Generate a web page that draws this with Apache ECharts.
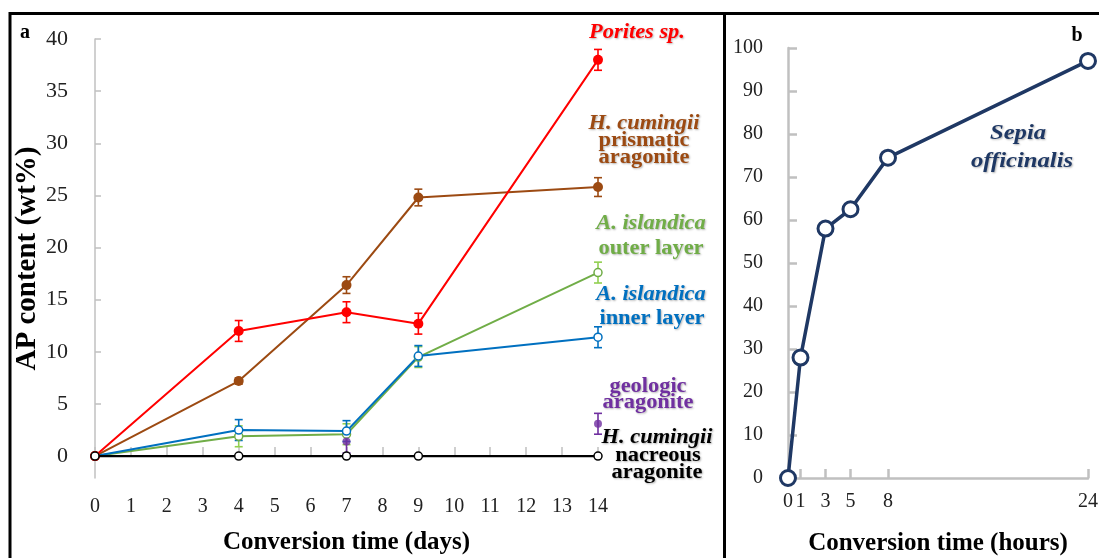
<!DOCTYPE html>
<html>
<head>
<meta charset="utf-8">
<script src="https://cdn.jsdelivr.net/npm/echarts@6/dist/echarts.min.js"></script>
<style>
  html, body { margin: 0; padding: 0; background: #fff; }
  #chart { width: 1099px; height: 558px; }
</style>
</head>
<body>
<div id="chart"></div>
<script>
// Panel a: conversion time in days
var days = [0, 4, 7, 9, 14];
var dayTicks = [0, 1, 2, 3, 4, 5, 6, 7, 8, 9, 10, 11, 12, 13, 14];
var apTicks = [0, 5, 10, 15, 20, 25, 30, 35, 40];

var porites = [0, 12.0, 13.8, 12.7, 38.0];
var poritesErr = [0, 1.0, 1.0, 1.0, 1.0];

var prismatic = [0, 7.2, 16.4, 24.8, 25.8];
var prismaticErr = [0, 0.3, 0.8, 0.8, 0.9];

var outerLayer = [0, 1.9, 2.1, 9.5, 17.6];
var outerErr = [0, 1.0, 1.0, 1.0, 1.0];

var innerLayer = [0, 2.5, 2.4, 9.6, 11.4];
var innerErr = [0, 1.0, 1.0, 1.0, 1.0];

var geoDays = [7, 14];
var geologic = [1.4, 3.1];
var geoErr = [1.1, 1.0];

var nacreous = [0, 0, 0, 0, 0];

// Panel b: conversion time in hours
var hours = [0, 1, 3, 5, 8, 24];
var hourTicks = [0, 1, 3, 5, 8, 24];
var sepia = [0, 28, 58, 62.5, 74.5, 97];

var FONT = 'Liberation Serif';
var AXIS_GREY = '#c0c0c0';

function pairs(xs, ys) {
  return xs.map(function (x, i) { return [x, ys[i]]; });
}
function errRows(xs, ys, es) {
  return xs.map(function (x, i) { return [x, ys[i] - es[i], ys[i] + es[i]]; })
           .filter(function (r) { return r[2] > r[1]; });
}

function errorBars(name, xs, ys, es, color) {
  return {
    type: 'custom',
    name: name + ' error',
    xAxisIndex: 0, yAxisIndex: 0,
    data: errRows(xs, ys, es),
    encode: { x: 0, y: [1, 2] },
    z: 3,
    renderItem: function (params, api) {
      var x = api.value(0);
      var lo = api.coord([x, api.value(1)]);
      var hi = api.coord([x, api.value(2)]);
      var w = 4;
      var st = { stroke: color, lineWidth: 1.6 };
      return {
        type: 'group',
        children: [
          { type: 'line', shape: { x1: lo[0], y1: lo[1], x2: hi[0], y2: hi[1] }, style: st },
          { type: 'line', shape: { x1: lo[0] - w, y1: lo[1], x2: lo[0] + w, y2: lo[1] }, style: st },
          { type: 'line', shape: { x1: hi[0] - w, y1: hi[1], x2: hi[0] + w, y2: hi[1] }, style: st }
        ]
      };
    }
  };
}

function lineSeries(name, xs, ys, color, opts) {
  opts = opts || {};
  return {
    type: 'line',
    name: name,
    xAxisIndex: opts.axis || 0, yAxisIndex: opts.axis || 0,
    data: pairs(xs, ys),
    symbol: 'circle',
    symbolSize: opts.size || 10,
    z: opts.z || 4,
    lineStyle: { color: color, width: opts.width || 2 },
    itemStyle: opts.hollow
      ? { color: '#fff', borderColor: color, borderWidth: opts.border || 1.5 }
      : { color: color, borderColor: color, borderWidth: 0 },
    emphasis: { disabled: true },
    animation: false
  };
}

var labelShadow = { textShadowColor: 'rgba(0,0,0,0.3)', textShadowBlur: 2, textShadowOffsetX: 1, textShadowOffsetY: 1 };

// text placed at its centre; widened slightly to give the broad book-face look
function txt(x, y, s, color, size, italic, extra, sx) {
  var style = Object.assign({
    text: s, x: 0, y: 0, fill: color,
    font: (italic ? 'italic ' : '') + 'bold ' + size + 'px "' + FONT + '"',
    textAlign: 'center', textVerticalAlign: 'middle'
  }, extra || {});
  return { type: 'text', z: 10, x: x, y: y, scaleX: sx || 1, style: style };
}

var chart = echarts.init(document.getElementById('chart'), null, { renderer: 'canvas' });

var option = {
  backgroundColor: '#fff',
  animation: false,
  textStyle: { fontFamily: FONT },
  grid: [
    { left: 95, top: 39, width: 503, height: 439, outerBoundsMode: 'none', containLabel: false },
    { left: 788, top: 48, width: 300, height: 430, outerBoundsMode: 'none', containLabel: false }
  ],
  xAxis: [
    {
      gridIndex: 0, type: 'value', min: 0, max: 14, interval: 1,
      axisLine: { show: true, lineStyle: { color: AXIS_GREY, width: 1.5 } },
      axisTick: { show: true, inside: true, length: 9, lineStyle: { color: AXIS_GREY, width: 1.5 } },
      axisLabel: { color: '#222', fontSize: 20, fontFamily: FONT, margin: 19,
                   customValues: dayTicks },
      splitLine: { show: false },
      name: 'Conversion time (days)', nameLocation: 'middle', nameGap: 52,
      nameTextStyle: { color: '#000', fontSize: 25, fontWeight: 'bold', fontFamily: FONT }
    },
    {
      gridIndex: 1, type: 'value', min: 0, max: 24,
      axisLine: { show: true, lineStyle: { color: AXIS_GREY, width: 2.5 } },
      axisTick: { show: true, inside: true, length: 9, lineStyle: { color: AXIS_GREY, width: 2.5 },
                  customValues: hourTicks },
      axisLabel: { color: '#222', fontSize: 20, fontFamily: FONT, margin: 14,
                   customValues: hourTicks },
      splitLine: { show: false },
      name: 'Conversion time (hours)', nameLocation: 'middle', nameGap: 53,
      nameTextStyle: { color: '#000', fontSize: 25, fontWeight: 'bold', fontFamily: FONT }
    }
  ],
  yAxis: [
    {
      gridIndex: 0, type: 'value', min: -2.1, max: 40,
      axisLine: { show: true, lineStyle: { color: AXIS_GREY, width: 1.5 } },
      axisTick: { show: true, inside: true, length: 6, lineStyle: { color: AXIS_GREY, width: 1.5 },
                  customValues: apTicks },
      axisLabel: { color: '#222', fontSize: 22, fontFamily: FONT, margin: 27,
                   customValues: apTicks },
      splitLine: { show: false },
      name: 'AP content (wt%)', nameLocation: 'middle', nameGap: 44, nameRotate: 90,
      nameTextStyle: { color: '#000', fontSize: 29, fontWeight: 'bold', fontFamily: FONT }
    },
    {
      gridIndex: 1, type: 'value', min: 0, max: 100, interval: 10,
      axisLine: { show: true, lineStyle: { color: AXIS_GREY, width: 2.5 } },
      axisTick: { show: true, inside: true, length: 9, lineStyle: { color: AXIS_GREY, width: 2.5 } },
      axisLabel: { color: '#222', fontSize: 20, fontFamily: FONT, margin: 25 },
      splitLine: { show: false }
    }
  ],
  series: [
    errorBars('H. cumingii prismatic', days, prismatic, prismaticErr, '#9c4a12'),
    lineSeries('H. cumingii prismatic aragonite', days, prismatic, '#9c4a12', { size: 10 }),
    errorBars('Porites sp.', days, porites, poritesErr, '#ff0000'),
    lineSeries('Porites sp.', days, porites, '#ff0000', { size: 10, z: 5 }),
    errorBars('A. islandica outer', days, outerLayer, outerErr, '#92d050'),
    lineSeries('A. islandica outer layer', days, outerLayer, '#70ad47', { hollow: true, size: 8 }),
    errorBars('A. islandica inner', days, innerLayer, innerErr, '#0070c0'),
    lineSeries('A. islandica inner layer', days, innerLayer, '#0070c0', { hollow: true, size: 8 }),
    errorBars('geologic aragonite', geoDays, geologic, geoErr, '#7030a0'),
    {
      type: 'scatter', name: 'geologic aragonite', xAxisIndex: 0, yAxisIndex: 0,
      data: pairs(geoDays, geologic), symbol: 'circle', symbolSize: 8, z: 6,
      itemStyle: { color: '#7030a0' }, emphasis: { disabled: true }
    },
    lineSeries('H. cumingii nacreous aragonite', days, nacreous, '#000', { hollow: true, size: 8, z: 7, width: 2.2 }),
    lineSeries('Sepia officinalis', hours, sepia, '#1f3864',
               { axis: 1, hollow: true, size: 15, border: 3, width: 3.5 })
  ],
  graphic: [
    // panel frame
    { type: 'line', z: 20, shape: { x1: 9, y1: 13.5, x2: 1099, y2: 13.5 }, style: { stroke: '#000', lineWidth: 3 } },
    { type: 'line', z: 20, shape: { x1: 10, y1: 12, x2: 10, y2: 558 }, style: { stroke: '#000', lineWidth: 3 } },
    { type: 'line', z: 20, shape: { x1: 724.5, y1: 12, x2: 724.5, y2: 558 }, style: { stroke: '#000', lineWidth: 3 } },
    // panel letters
    txt(25, 33, 'a', '#000', 20, false),
    txt(1077, 36, 'b', '#000', 20, false),
    // series labels, panel a
    txt(637, 33, 'Porites sp.', '#ff0000', 20, true, labelShadow, 1.12),
    txt(644, 124, 'H. cumingii', '#9c4a12', 20, true, labelShadow, 1.12),
    txt(644, 141, 'prismatic', '#9c4a12', 20, false, labelShadow, 1.12),
    txt(644, 158, 'aragonite', '#9c4a12', 20, false, labelShadow, 1.12),
    txt(651, 224, 'A. islandica', '#70ad47', 20, true, labelShadow, 1.12),
    txt(651, 249, 'outer layer', '#70ad47', 20, false, labelShadow, 1.12),
    txt(651, 295, 'A. islandica', '#0070c0', 20, true, labelShadow, 1.12),
    txt(652, 319, 'inner layer', '#0070c0', 20, false, labelShadow, 1.12),
    txt(648, 387, 'geologic', '#7030a0', 20, false, labelShadow, 1.12),
    txt(648, 403, 'aragonite', '#7030a0', 20, false, labelShadow, 1.12),
    txt(657, 438, 'H. cumingii', '#000', 20, true, labelShadow, 1.12),
    txt(658, 456, 'nacreous', '#000', 20, false, labelShadow, 1.12),
    txt(657, 473, 'aragonite', '#000', 20, false, labelShadow, 1.12),
    // series label, panel b
    txt(1018, 133, 'Sepia', '#1f3864', 22, true, labelShadow, 1.12),
    txt(1022, 161, 'officinalis', '#1f3864', 22, true, labelShadow, 1.12)
  ]
};

chart.setOption(option);
</script>
</body>
</html>
